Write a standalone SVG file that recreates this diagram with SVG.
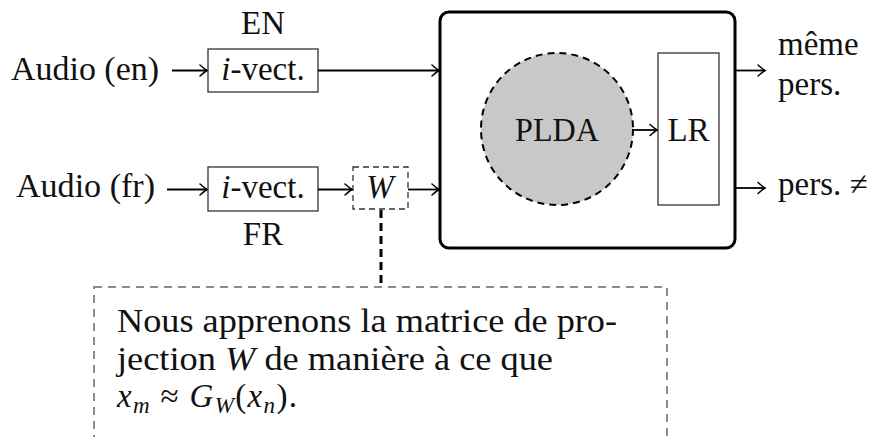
<svg xmlns="http://www.w3.org/2000/svg" width="877" height="437" viewBox="0 0 877 437">
<defs>
<marker id="arr" markerUnits="userSpaceOnUse" markerWidth="14" markerHeight="14" viewBox="-10 -7 12 14" refX="0" refY="0" orient="auto">
<path d="M -7 -5.5 Q -2.5 -1.5 0 0 Q -2.5 1.5 -7 5.5" fill="none" stroke="#000" stroke-width="1.5" stroke-linecap="round"/>
</marker>
</defs>
<style>
text{font-family:"Liberation Serif","DejaVu Serif",serif;font-size:33px;fill:#111}
.it{font-style:italic}
.sub{font-size:23px}
.box{fill:#fff;stroke:#333;stroke-width:1.3}
.dbox{fill:#fff;stroke:#333;stroke-width:1.3;stroke-dasharray:6 4}
.c{stroke:#000;stroke-width:1.8;fill:none;marker-end:url(#arr)}
</style>
<rect width="877" height="437" fill="#fff"/>
<g id="audio-en"><text x="11" y="80" textLength="148" lengthAdjust="spacingAndGlyphs">Audio (en)</text></g>
<g id="audio-fr"><text x="16" y="197" textLength="139" lengthAdjust="spacingAndGlyphs">Audio (fr)</text></g>
<g id="ivect-en"><rect class="box" x="208" y="49" width="110" height="43"/><text x="263" y="80" text-anchor="middle"><tspan class="it">i</tspan>-vect.</text><text x="263" y="34" text-anchor="middle">EN</text></g>
<g id="ivect-fr"><rect class="box" x="208" y="167" width="110" height="44"/><text x="263" y="198" text-anchor="middle"><tspan class="it">i</tspan>-vect.</text><text x="263" y="245" text-anchor="middle">FR</text></g>
<g id="w"><rect class="dbox" x="353" y="167" width="55" height="42"/><text x="380" y="198" text-anchor="middle" class="it">W</text></g>
<g id="system">
<rect x="440" y="12" width="295" height="236" rx="9" fill="#fff" stroke="#000" stroke-width="3"/>
</g>
<g id="plda"><circle cx="557" cy="129" r="76" fill="#c8c8c8" stroke="#000" stroke-width="2" stroke-dasharray="7 5"/><text x="557" y="141" text-anchor="middle" textLength="84" lengthAdjust="spacingAndGlyphs">PLDA</text></g>
<g id="lr"><rect class="box" x="658" y="53" width="61" height="152"/><text x="688.5" y="141" text-anchor="middle">LR</text></g>
<g id="out-same"><text x="778" y="55">même</text><text x="778" y="95">pers.</text></g>
<g id="out-diff"><text x="778" y="195">pers. ≠</text></g>
<g id="note">
<rect x="94" y="287" width="573" height="170" fill="none" stroke="#666" stroke-width="1.5" stroke-dasharray="8 6"/>
<text x="117" y="332" textLength="500" lengthAdjust="spacingAndGlyphs">Nous apprenons la matrice de pro-</text>
<text x="117" y="370" textLength="436" lengthAdjust="spacingAndGlyphs">jection <tspan class="it">W</tspan> de manière à ce que</text>
<text x="117" y="407" textLength="180" lengthAdjust="spacing"><tspan class="it">x</tspan><tspan class="sub it" dy="6">m</tspan><tspan dy="-6"> ≈ </tspan><tspan class="it">G</tspan><tspan class="sub it" dy="6">W</tspan><tspan dy="-6">(</tspan><tspan class="it">x</tspan><tspan class="sub it" dy="6">n</tspan><tspan dy="-6">).</tspan></text>
</g>
<g id="connectors">
<line class="c" x1="172" y1="70.5" x2="207" y2="70.5"/>
<line class="c" x1="167" y1="189.5" x2="207" y2="189.5"/>
<line class="c" x1="318" y1="70.5" x2="439" y2="70.5"/>
<line class="c" x1="318" y1="189.5" x2="352" y2="189.5"/>
<line class="c" x1="408" y1="189.5" x2="439" y2="189.5"/>
<line class="c" x1="633" y1="130" x2="657" y2="130"/>
<line class="c" x1="736" y1="70.5" x2="765" y2="70.5"/>
<line class="c" x1="736" y1="188" x2="765" y2="188"/>
<line x1="381" y1="210" x2="381" y2="287" stroke="#000" stroke-width="3" stroke-dasharray="8 5"/>
</g>
</svg>
